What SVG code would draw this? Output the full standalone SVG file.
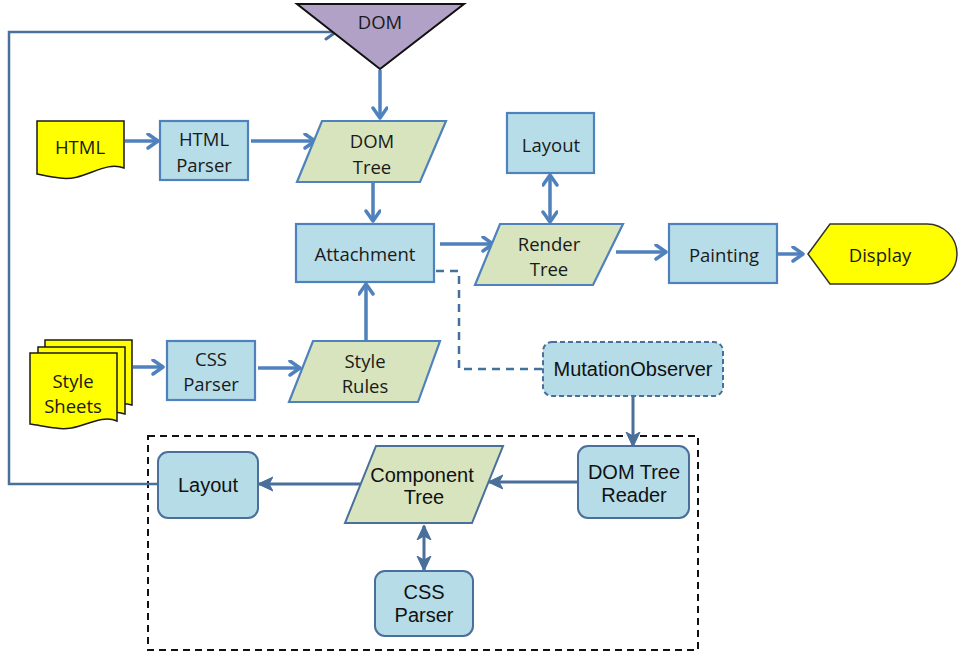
<svg xmlns="http://www.w3.org/2000/svg" width="960" height="653" viewBox="0 0 960 653">
<style>
.t{font-family:"Open Sans","Liberation Sans",sans-serif;font-size:18.5px;fill:#1a1a1a;text-anchor:middle;dominant-baseline:central}
.a{font-family:"Liberation Sans",Arial,sans-serif;font-size:20px;fill:#111;text-anchor:middle;dominant-baseline:central}
.box{fill:#b7dde8;stroke:#4f81bd;stroke-width:2.2}
.para{fill:#d7e4bd;stroke:#4f81bd;stroke-width:2.2}
.rbox{fill:#b5dce7;stroke:#4a6f9b;stroke-width:2}
.rpara{fill:#d7e4bd;stroke:#4a6f9b;stroke-width:2}
.doc{fill:#ffff00;stroke:#1a1a1a;stroke-width:1.5}
.up{fill:none;stroke:#4f81bd;stroke-width:3.5;marker-end:url(#ov)}
.lo{fill:none;stroke:#4a6f9b;stroke-width:3;marker-end:url(#cl)}
</style>
<defs>
<marker id="ov" markerUnits="userSpaceOnUse" markerWidth="16" markerHeight="18" refX="12" refY="8" orient="auto-start-reverse" viewBox="0 0 16 18">
<path d="M2,1 L12,8 L2,15" fill="none" stroke="#4f81bd" stroke-width="3.5" stroke-linecap="round" stroke-linejoin="round"/>
</marker>
<marker id="ovd" markerUnits="userSpaceOnUse" markerWidth="16" markerHeight="18" refX="12" refY="8" orient="auto" viewBox="0 0 16 18">
<path d="M2,1 L12,8 L2,15" fill="none" stroke="#4a6f9b" stroke-width="3" stroke-linecap="round" stroke-linejoin="round"/>
</marker>
<marker id="cl" markerUnits="userSpaceOnUse" markerWidth="16" markerHeight="16" refX="14" refY="8" orient="auto-start-reverse" viewBox="0 0 16 16">
<path d="M0,1 L15,8 L0,15 L4,8 Z" fill="#4a6f9b" stroke="#4a6f9b" stroke-width="1" stroke-linejoin="miter"/>
</marker>
</defs>

<g id="container">
<rect x="148" y="436" width="550" height="214" fill="none" stroke="#111" stroke-width="2" stroke-dasharray="7 5"/>
</g>

<g id="connectors">
<path class="up" d="M380,70 V118"/>
<path class="up" d="M125,141 H158"/>
<path class="up" d="M251,141 H315"/>
<path class="up" d="M373,183 V221"/>
<path class="up" d="M366,340 V284"/>
<path class="up" d="M440,244 H493"/>
<path class="up" d="M616,252 H666"/>
<path class="up" d="M778,254 H803"/>
<path class="up" d="M550,222 V175" style="marker-start:url(#ov)"/>
<path class="up" d="M133,367 H163"/>
<path class="up" d="M258,368 H300"/>
<path d="M436,271 H459 V369 H543" fill="none" stroke="#41719c" stroke-width="2.5" stroke-dasharray="8 6"/>
<path class="lo" d="M633,397 V446"/>
<path class="lo" d="M578,482 H489"/>
<path class="lo" d="M361,484 H259"/>
<path class="lo" d="M424,526 V570" style="marker-start:url(#cl)"/>
<path d="M158,484 H9 V32 H336" fill="none" stroke="#4a6f9b" stroke-width="2.5" marker-end="url(#ovd)"/>
</g>

<g id="dom">
<path d="M297,4 H464 L380,69 Z" fill="#b2a1c7" stroke="#111" stroke-width="2" stroke-linejoin="miter"/>
<text class="t" x="380" y="21">DOM</text>
</g>

<g id="html">
<path class="doc" d="M37,121 H124 V168 C104,160 84,182 60,178 C50,177 43,175 37,174 Z"/>
<text class="t" x="80" y="146">HTML</text>
</g>

<g id="html-parser">
<rect class="box" x="160" y="121" width="88" height="59"/>
<text class="t" x="204" y="138">HTML</text>
<text class="t" x="204" y="164">Parser</text>
</g>

<g id="dom-tree">
<path class="para" d="M322,121 H446 L420,182 H297 Z"/>
<text class="t" x="372" y="140">DOM</text>
<text class="t" x="372" y="166">Tree</text>
</g>

<g id="attachment">
<rect class="box" x="296" y="224" width="138" height="58"/>
<text class="t" x="365" y="253">Attachment</text>
</g>

<g id="layout-top">
<rect class="box" x="507" y="113" width="87" height="60"/>
<text class="t" x="551" y="144">Layout</text>
</g>

<g id="render-tree">
<path class="para" d="M500,224 H623 L593,285 H475 Z"/>
<text class="t" x="549" y="243">Render</text>
<text class="t" x="549" y="268">Tree</text>
</g>

<g id="painting">
<rect class="box" x="669" y="224" width="108" height="59"/>
<text class="t" x="724" y="254">Painting</text>
</g>

<g id="display">
<path d="M808,254 L830,224 H927 A30,30 0 0 1 927,284 H830 Z" fill="#ffff00" stroke="#333" stroke-width="1.5"/>
<text class="t" x="880" y="254">Display</text>
</g>

<g id="style-sheets">
<path class="doc" d="M45,340 H132 V405 C115,400 100,410 88,412 L45,412 Z"/>
<path class="doc" d="M38,347 H125 V414 C108,408 93,419 80,419 L38,419 Z"/>
<path class="doc" d="M30,353 H117 V421 C98,413 78,433 56,428 C46,427 38,425 30,424 Z"/>
<text class="t" x="73" y="380">Style</text>
<text class="t" x="73" y="405">Sheets</text>
</g>

<g id="css-parser-top">
<rect class="box" x="167" y="341" width="88" height="59"/>
<text class="t" x="211" y="358">CSS</text>
<text class="t" x="211" y="383">Parser</text>
</g>

<g id="style-rules">
<path class="para" d="M313,341 H440 L418,402 H289 Z"/>
<text class="t" x="365" y="360">Style</text>
<text class="t" x="365" y="385">Rules</text>
</g>

<g id="mutation-observer">
<rect x="543" y="342" width="180" height="54" rx="9" fill="#b5dce7" stroke="#4a6f9b" stroke-width="2" stroke-dasharray="5 3"/>
<text class="a" x="633" y="369">MutationObserver</text>
</g>

<g id="dom-tree-reader">
<rect class="rbox" x="578" y="446" width="111" height="72" rx="10"/>
<text class="a" x="634" y="472">DOM Tree</text>
<text class="a" x="634" y="495">Reader</text>
</g>

<g id="component-tree">
<path class="rpara" d="M376,446 H503 L472,523 H345 Z"/>
<text class="a" x="422" y="475">Component</text>
<text class="a" x="424" y="497">Tree</text>
</g>

<g id="layout-bottom">
<rect class="rbox" x="158" y="452" width="100" height="66" rx="10"/>
<text class="a" x="208" y="485">Layout</text>
</g>

<g id="css-parser-bottom">
<rect class="rbox" x="375" y="571" width="98" height="65" rx="10"/>
<text class="a" x="424" y="592">CSS</text>
<text class="a" x="424" y="615">Parser</text>
</g>
</svg>
